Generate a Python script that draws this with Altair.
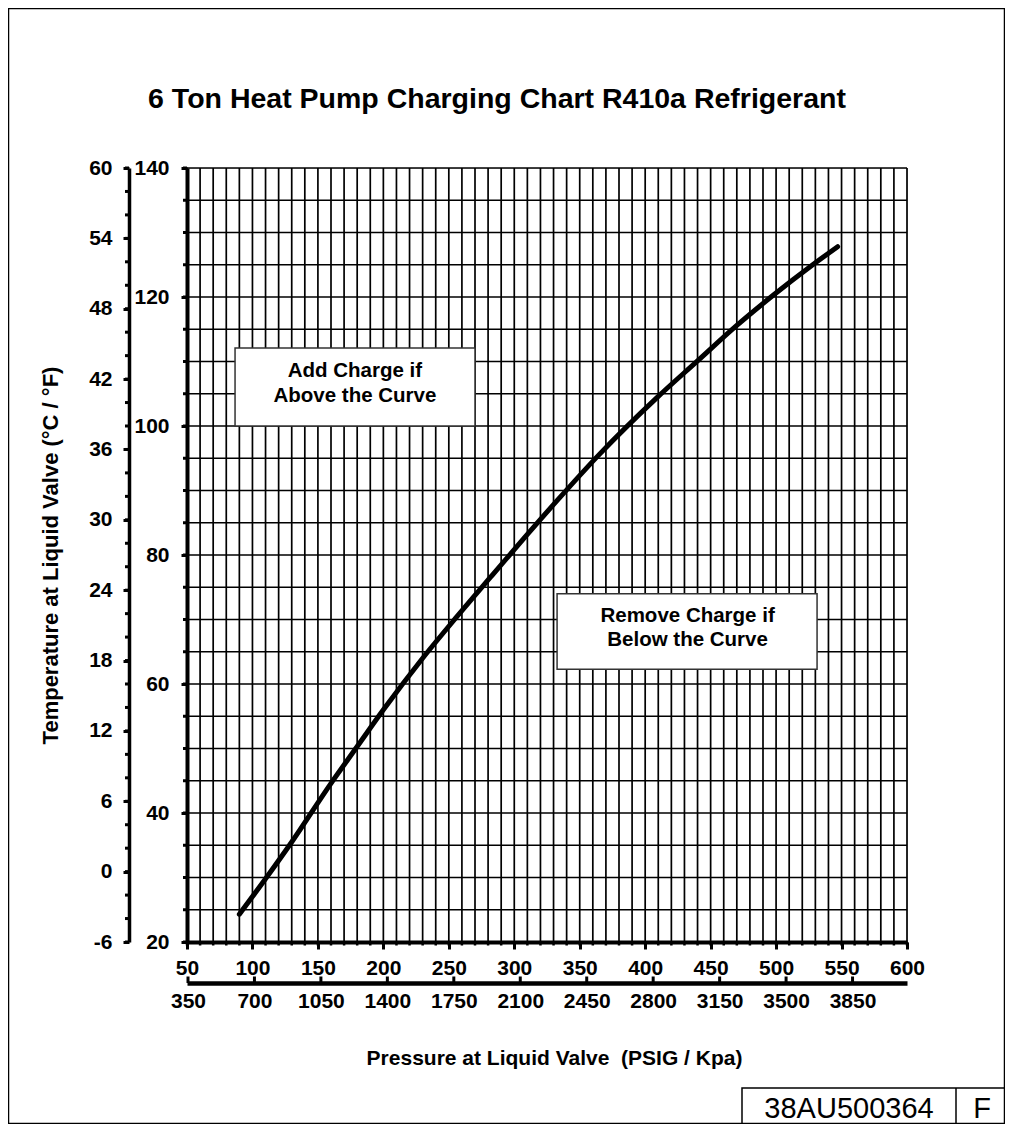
import altair as alt
import pandas as pd

FONT = "Liberation Sans"

title_text = "6 Ton Heat Pump Charging Chart R410a Refrigerant"
x_title = "Pressure at Liquid Valve\u00a0 (PSIG / Kpa)"
y_title = "Temperature at Liquid Valve (°C / °F)"
doc_id = "38AU500364"
doc_rev = "F"

# curve (PSIG, deg F)
curve_psig = [90, 110, 130, 160, 180, 200, 230, 256, 282, 307, 333, 365, 409, 440, 470, 498, 528, 547]
curve_temp_f = [24.3, 29.8, 35.5, 44.6, 50.3, 56.0, 64.0, 70.4, 76.6, 82.5, 88.5, 95.6, 104.4, 110.1, 115.6, 120.3, 125.0, 127.8]

psig_labels = list(range(50, 601, 50))
psig_grid = list(range(50, 601, 10))
temp_f_labels = list(range(20, 141, 20))
temp_f_grid = list(range(20, 141, 5))
temp_c_labels = list(range(-6, 61, 6))
temp_c_minor = list(range(-6, 61, 2))
kpa_labels = list(range(350, 3851, 350))

PSI_TO_KPA = 6.89476
psig_domain = [50, 600]
kpa_domain = [50 * PSI_TO_KPA, 600 * PSI_TO_KPA]
temp_f_domain = [20, 140]
temp_c_domain = [-6, 60]

# annotation boxes in data units (PSIG, deg F)
box_x1 = [86.7, 332.7]
box_x2 = [270.0, 531.3]
box_y1 = [100.0, 62.3]
box_y2 = [112.1, 74.0]
note_text = ["Add Charge if", "Above the Curve", "Remove Charge if", "Below the Curve"]
note_psig = [178.3, 178.3, 432.4, 432.4]
note_temp = [108.45, 104.6, 70.5, 66.8]

W, H = 720, 774

lab = dict(labelFont=FONT, labelFontSize=21, labelFontWeight="bold", labelColor="black",
           labelExpr="datum.value + ''")

xs = alt.Scale(domain=psig_domain, nice=False, zero=False)
ys = alt.Scale(domain=temp_f_domain, nice=False, zero=False)

x_axis = alt.Axis(orient="bottom", values=psig_labels, title=None, grid=False,
                  domainColor="black", domainWidth=4, tickColor="black", tickWidth=3,
                  tickSize=7, labelPadding=8, labelOverlap=False, labelFlush=False, **lab)
y_axis = alt.Axis(orient="left", values=temp_f_labels, title=None, grid=False,
                  domainColor="black", domainWidth=4, tickColor="black", tickWidth=3,
                  tickSize=6, labelPadding=12, labelOverlap=False, labelFlush=False, **lab)

X = lambda f: alt.X(f, scale=xs, axis=x_axis)
Y = lambda f: alt.Y(f, scale=ys, axis=y_axis)

one = pd.DataFrame({"a": [0]})

frame = alt.Chart(one).mark_rect(
    fill="white", fillOpacity=0, stroke="black", strokeWidth=1.5
).encode(x=alt.value(-178.5), x2=alt.value(817.5), y=alt.value(-159.5), y2=alt.value(955.5))

title_mark = alt.Chart(pd.DataFrame({"s": [title_text]})).mark_text(
    font=FONT, fontSize=28.5, fontWeight="bold", color="black", align="center",
    baseline="alphabetic"
).encode(x=alt.value(310), y=alt.value(-60), text="s:N")

vgrid = alt.Chart(pd.DataFrame({"p": psig_grid})).mark_rule(
    color="black", strokeWidth=1.7).encode(x=X("p:Q"))
hgrid = alt.Chart(pd.DataFrame({"t": temp_f_grid})).mark_rule(
    color="black", strokeWidth=1.7).encode(y=Y("t:Q"))
fminor = alt.Chart(pd.DataFrame({"t": temp_f_grid})).mark_rule(
    color="black", strokeWidth=3).encode(y=Y("t:Q"), x=alt.value(-4), x2=alt.value(0))
xminor = alt.Chart(pd.DataFrame({"p": psig_grid})).mark_rule(
    color="black", strokeWidth=2.5).encode(x=X("p:Q"), y=alt.value(H), y2=alt.value(H + 3.5))

boxes = alt.Chart(pd.DataFrame({"x1": box_x1, "x2": box_x2, "y1": box_y1, "y2": box_y2})).mark_rect(
    fill="white", stroke="#333333", strokeWidth=1.5
).encode(x=X("x1:Q"), x2="x2:Q", y=Y("y1:Q"), y2="y2:Q")

notes = alt.Chart(pd.DataFrame({"text": note_text, "p": note_psig, "t": note_temp})).mark_text(
    font=FONT, fontSize=20.5, fontWeight="bold", color="black", align="center", baseline="middle"
).encode(x=X("p:Q"), y=Y("t:Q"), text="text:N")

curve = alt.Chart(pd.DataFrame({"p": curve_psig, "t": curve_temp_f})).mark_line(
    color="black", strokeWidth=5, interpolate="monotone", strokeCap="round"
).encode(x=X("p:Q"), y=Y("t:Q"))

id_box = alt.Chart(one).mark_rect(
    fill="white", stroke="black", strokeWidth=1.5
).encode(x=alt.value(555), x2=alt.value(817.5), y=alt.value(920), y2=alt.value(955.5))
id_div = alt.Chart(one).mark_rule(color="black", strokeWidth=1.5).encode(
    x=alt.value(769), y=alt.value(920), y2=alt.value(955.5))
id_text = alt.Chart(pd.DataFrame({"s": [doc_id]})).mark_text(
    font=FONT, fontSize=29, color="black", align="center", baseline="alphabetic"
).encode(x=alt.value(662), y=alt.value(950), text="s:N")
rev_text = alt.Chart(pd.DataFrame({"s": [doc_rev]})).mark_text(
    font=FONT, fontSize=29, color="black", align="center", baseline="alphabetic"
).encode(x=alt.value(795), y=alt.value(950), text="s:N")

main = alt.layer(frame, title_mark, vgrid, hgrid, fminor, xminor, boxes, notes, curve,
                 id_box, id_div, id_text, rev_text)

# kPa secondary axis
k_axis = alt.Axis(orient="bottom", offset=41, values=kpa_labels, ticks=False, tickSize=0,
                  domainColor="black", domainWidth=4.5, labelPadding=7, labelOverlap=False,
                  labelFlush=False, grid=False, **lab,
                  title=x_title, titleFont=FONT, titleFontSize=21, titleFontWeight="bold",
                  titleColor="black", titleX=367, titleY=75, titleAlign="center",
                  titleBaseline="middle")
kpa = alt.Chart(pd.DataFrame({"k": kpa_labels})).mark_rule(color="black", strokeWidth=3).encode(
    x=alt.X("k:Q", scale=alt.Scale(domain=kpa_domain, nice=False, zero=False), axis=k_axis),
    y=alt.value(H + 41 - 6.5), y2=alt.value(H + 41))

# deg C secondary axis
c_axis = alt.Axis(orient="left", offset=58, values=temp_c_labels, domainColor="black",
                  domainWidth=3.5, tickColor="black", tickWidth=3, tickSize=6, labelPadding=11,
                  labelOverlap=False, labelFlush=False, grid=False, **lab,
                  title=y_title, titleFont=FONT, titleFontSize=22, titleFontWeight="bold",
                  titleColor="black", titleX=-79, titleY=H / 2, titleAngle=270,
                  titleAlign="center", titleBaseline="middle")
cel = alt.Chart(pd.DataFrame({"c": temp_c_minor})).mark_rule(color="black", strokeWidth=3).encode(
    y=alt.Y("c:Q", scale=alt.Scale(domain=temp_c_domain, nice=False, zero=False), axis=c_axis),
    x=alt.value(-62), x2=alt.value(-58))

chart = alt.layer(main, kpa, cel).resolve_scale(x="independent", y="independent").properties(
    width=W, height=H,
    autosize=alt.AutoSizeParams(type="none"),
    padding={"left": 179, "top": 160, "right": 98, "bottom": 182},
).configure_view(stroke=None).configure(background="white")

chart.save("out.html", embed_options={"renderer": "svg", "actions": False})
